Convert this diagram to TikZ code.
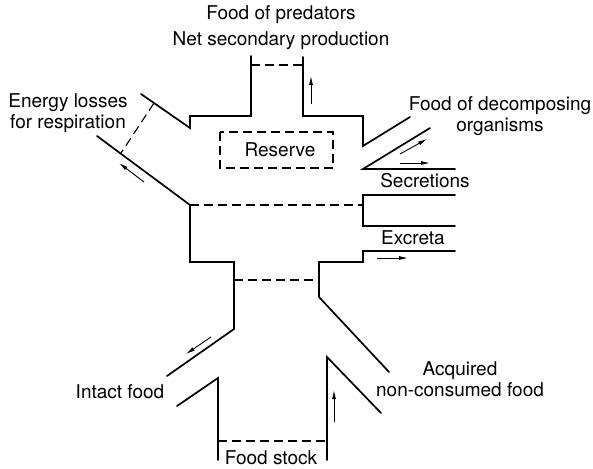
\documentclass[tikz,border=0pt]{standalone}
\usepackage{fontspec}
\setmainfont{TeX Gyre Heros}
\usepackage{tikz}
\usetikzlibrary{arrows.meta}

\begin{document}
\begin{tikzpicture}[
    x=1pt, y=-1pt,
    wall/.style={line width=1.7pt, line cap=round, line join=miter},
    gate/.style={line width=1.1pt, dash pattern=on 9pt off 5pt},
    flow/.style={-{Latex[length=9pt, width=4pt]}, line width=0.9pt},
    lbl/.style={font=\fontsize{19}{21}\selectfont, align=center, inner sep=0pt}
]
\useasboundingbox (0,0) rectangle (593,468);

% outer walls of the animal body
\draw[wall] (141,94) -- (190,128) -- (190,116) -- (251,116) -- (251,56);
\draw[wall] (303,57) -- (303,116) -- (363,116) -- (363,146) -- (410,117);
\draw[wall] (97,136) -- (190,205) -- (190,262) -- (234,262) -- (234,329) -- (167,376);
\draw[wall] (430,128) -- (363,169) -- (455,169);
\draw[wall] (455,195) -- (363,195) -- (363,226) -- (455,226);
\draw[wall] (455,251) -- (363,251) -- (363,262) -- (319,262) -- (319,297) -- (389,372);
\draw[wall] (177,406) -- (218,378) -- (218,460);
\draw[wall] (327,460) -- (327,357) -- (381,413);

% compartment boundaries
\draw[gate] (251,65) -- (303,65);
\draw[gate] (154,103) -- (121,153);
\draw[gate] (190,205) -- (363,205);
\draw[gate] (234,280) -- (319,280);
\draw[gate] (218,441) -- (327,441);
\draw[gate] (220,132) rectangle (333,168);

% flow directions
\draw[flow] (311,104) -- (311,76);
\draw[flow] (144,182) -- (119,163);
\draw[flow] (400,154) -- (427,139);
\draw[flow] (400,163) -- (430,163);
\draw[flow] (377,258) -- (408,258);
\draw[flow] (211,337) -- (186,354);
\draw[flow] (334,422) -- (334,390);

% labels
\node[lbl] (pred) at (281,15) {Food of predators};
\node[lbl] (prod) at (281,41) {Net secondary production};
\node[lbl] (resp) at (68,113) {Energy losses\\for respiration};
\node[lbl] (decomp) at (500,116) {Food of decomposing\\organisms};
\node[lbl] (reserve) at (280,150) {Reserve};
\node[lbl] (secr) at (425,181) {Secretions};
\node[lbl] (excr) at (413,238) {Excreta};
\node[lbl] (intact) at (120,392) {Intact food};
\node[lbl] (acq) at (460,379) {Acquired\\non-consumed food};
\node[lbl] (stock) at (271,458) {Food stock};
\end{tikzpicture}
\end{document}
